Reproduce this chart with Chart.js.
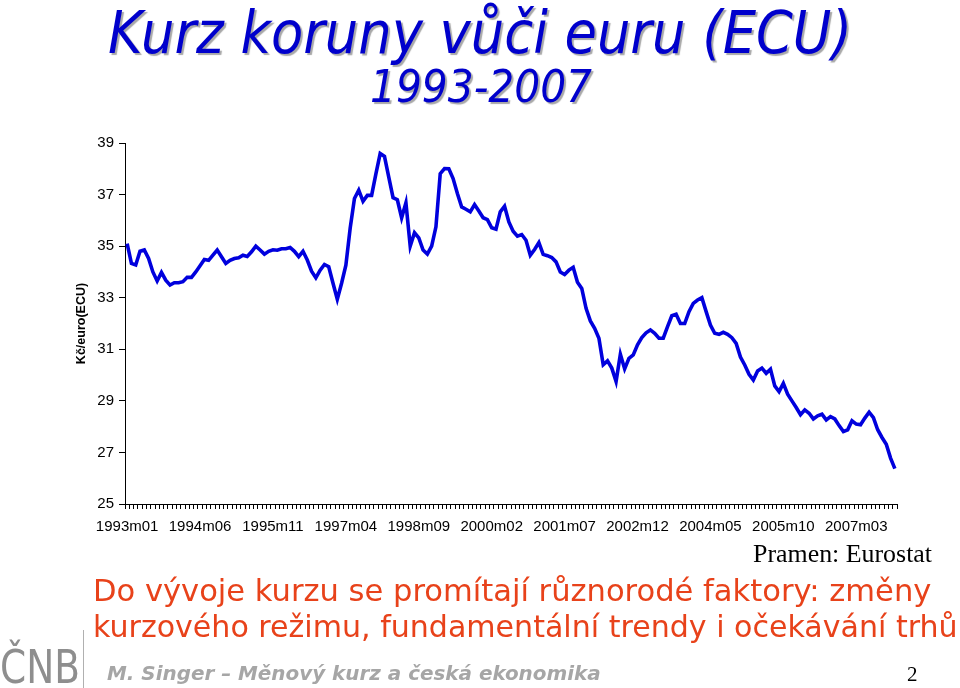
<!DOCTYPE html>
<html>
<head>
<meta charset="utf-8">
<script src="https://cdn.jsdelivr.net/npm/chart.js@4.4.1/dist/chart.umd.min.js"></script>
<style>
  html, body { margin:0; padding:0; background:#fff; }
  body { width:960px; height:688px; position:relative; overflow:hidden; }
  #c { position:absolute; left:0; top:0; }
  .txt { position:absolute; white-space:nowrap; line-height:1; left:0; top:0; }
  .bl { display:inline-block; width:0; height:0; vertical-align:baseline; }
  #title { font-family:"DejaVu Sans Condensed","DejaVu Sans",sans-serif; font-stretch:condensed; font-style:italic; color:#0000cc; text-shadow:2px 2px 1px #a8a8a8; }
  #sub { font-family:"DejaVu Sans Condensed","DejaVu Sans",sans-serif; font-stretch:condensed; font-style:italic; color:#0000cc; text-shadow:2px 2px 1px #a8a8a8; }
  #src { font-family:"Liberation Serif","Times New Roman",serif; color:#000; }
  .red { font-family:"DejaVu Sans",sans-serif; color:#e8421a; }
  #author { font-family:"DejaVu Sans",sans-serif; font-weight:bold; font-style:italic; color:#a6a6a6; }
  #page { font-family:"Liberation Serif",serif; color:#000; }
  #cnb { font-family:"DejaVu Sans Condensed","DejaVu Sans",sans-serif; font-stretch:condensed; color:#8e8e8e; transform-origin:0 100%; transform:scaleY(1.12); }
  #vline { position:absolute; left:83px; top:630px; width:1px; height:58px; background:#b0b0b0; }
</style>
</head>
<body>
<canvas id="c" width="960" height="688"></canvas>
<div id="title" class="txt">Kurz koruny vůči euru (ECU)<span class="bl"></span></div>
<div id="sub" class="txt">1993-2007<span class="bl"></span></div>
<div id="src" class="txt">Pramen: Eurostat<span class="bl"></span></div>
<div id="red1" class="txt red">Do vývoje kurzu se promítají různorodé faktory: změny<span class="bl"></span></div>
<div id="red2" class="txt red">kurzového režimu, fundamentální trendy i očekávání trhů<span class="bl"></span></div>
<div id="cnb" class="txt">ČNB<span class="bl"></span></div>
<div id="vline"></div>
<div id="author" class="txt">M. Singer – Měnový kurz a česká ekonomika<span class="bl"></span></div>
<div id="page" class="txt">2<span class="bl"></span></div>
<script>
// ---- Data ----
const startYear = 1993;
const endYear = 2007;
const months = [];
for (let y = startYear; y <= endYear; y++) {
  for (let m = 1; m <= 12; m++) months.push(y + 'm' + (m < 10 ? '0' + m : m));
}
const tickLabels = ['1993m01','1994m06','1995m11','1997m04','1998m09','2000m02','2001m07','2002m12','2004m05','2005m10','2007m03'];
const yTicks = [25, 27, 29, 31, 33, 35, 37, 39];
const yTitle = 'Kč/euro(ECU)';
// CZK per EUR (ECU), monthly 1993m01 - 2007m12
const kurz = [
  35.10, 34.33, 34.27, 34.80, 34.85, 34.52, 34.00, 33.65, 33.98, 33.68, 33.49, 33.58,
  33.58, 33.62, 33.79, 33.79, 34.00, 34.24, 34.48, 34.45, 34.65, 34.85, 34.59, 34.33,
  34.45, 34.52, 34.55, 34.65, 34.60, 34.78, 35.00, 34.85, 34.69, 34.80, 34.86, 34.84,
  34.90, 34.90, 34.95, 34.80, 34.59, 34.80, 34.46, 34.03, 33.77, 34.07, 34.29, 34.20,
  33.56, 32.94, 33.56, 34.26, 35.69, 36.85, 37.17, 36.74, 36.97, 36.97, 37.80, 38.59,
  38.48, 37.68, 36.88, 36.80, 36.10, 36.68, 35.00, 35.52, 35.32, 34.85, 34.69, 35.00,
  35.75, 37.81, 38.01, 38.00, 37.62, 37.04, 36.52, 36.43, 36.33, 36.61, 36.36, 36.10,
  36.03, 35.71, 35.66, 36.33, 36.55, 35.94, 35.58, 35.39, 35.45, 35.23, 34.65, 34.87,
  35.14, 34.68, 34.63, 34.56, 34.39, 34.00, 33.90, 34.07, 34.18, 33.60, 33.36, 32.59,
  32.10, 31.81, 31.43, 30.40, 30.55, 30.27, 29.75, 30.81, 30.24, 30.65, 30.78, 31.17,
  31.45, 31.64, 31.75, 31.62, 31.43, 31.43, 31.88, 32.30, 32.36, 32.00, 32.00, 32.46,
  32.78, 32.91, 33.00, 32.46, 31.94, 31.62, 31.58, 31.66, 31.58, 31.45, 31.23, 30.70,
  30.39, 30.03, 29.81, 30.16, 30.27, 30.07, 30.23, 29.58, 29.36, 29.68, 29.26, 29.00,
  28.74, 28.46, 28.65, 28.52, 28.30, 28.42, 28.48, 28.26, 28.39, 28.30, 28.04, 27.81,
  27.88, 28.23, 28.10, 28.07, 28.33, 28.56, 28.35, 27.88, 27.58, 27.32, 26.78, 26.37
];

// ---- Chart ----
new Chart(document.getElementById('c'), {
  type: 'line',
  data: {
    labels: months,
    datasets: [{
      data: kurz,
      borderColor: '#0000dd',
      borderWidth: 3.6,
      pointRadius: 0,
      tension: 0,
      fill: false
    }]
  },
  options: {
    responsive: false,
    animation: false,
    events: [],
    layout: { padding: { top: 143, left: 0, right: 63, bottom: 144 } },
    plugins: { legend: { display: false }, tooltip: { enabled: false } },
    scales: {
      x: {
        type: 'category',
        offset: true,
        afterFit: s => { s.height = 40; },
        border: { display: true, color: '#000', width: 1 },
        grid: { display: true, offset: true, drawOnChartArea: false, drawTicks: true, tickLength: 5, color: '#000', lineWidth: 1 },
        ticks: {
          autoSkip: false, maxRotation: 0, minRotation: 0, padding: 9,
          color: '#000',
          font: { family: '"Liberation Sans", Arial, sans-serif', size: 15 },
          callback: function(v, i) { const l = months[i]; return tickLabels.includes(l) ? l : ''; }
        }
      },
      y: {
        min: 25, max: 39,
        afterFit: s => { s.width = 125; },
        afterBuildTicks: s => { s.ticks = yTicks.map(v => ({ value: v })); },
        border: { display: true, color: '#000', width: 1 },
        grid: { display: true, drawOnChartArea: false, drawTicks: true, tickLength: 6, color: '#000', lineWidth: 1 },
        ticks: {
          padding: 5, color: '#000',
          font: { family: '"Liberation Sans", Arial, sans-serif', size: 15 }
        },
        title: {
          display: true, text: yTitle, color: '#000',
          font: { family: '"Liberation Sans", Arial, sans-serif', size: 12.5, weight: 'bold' },
          padding: { top: 74.5, bottom: 0 }
        }
      }
    }
  }
});

// ---- Text placement ----
function place(id, o) {
  const el = document.getElementById(id);
  el.style.fontSize = o.size + 'px';
  if (o.width) {
    const w = el.getBoundingClientRect().width;
    el.style.fontSize = (o.size * o.width / w) + 'px';
  }
  const r = el.getBoundingClientRect();
  let left;
  if (o.left !== undefined) left = o.left;
  else if (o.right !== undefined) left = o.right - r.width;
  else left = o.cx - r.width / 2;
  el.style.left = left + 'px';
  el.style.top = '0px';
  const b = el.querySelector('.bl').getBoundingClientRect().top;
  el.style.top = (o.baseline - b) + 'px';
}
place('title', { size: 54, width: 744, cx: 480, baseline: 53 });
place('sub', { size: 40, width: 222, cx: 481, baseline: 102 });
place('src', { size: 21, width: 179, right: 932, baseline: 562 });
place('red1', { size: 28, width: 839, left: 93, baseline: 601 });
place('red2', { size: 28, width: 865, left: 93, baseline: 637 });
place('cnb', { size: 50, width: 80, left: 0, baseline: 683 });
place('author', { size: 22, width: 494, left: 107, baseline: 680 });
place('page', { size: 21, left: 907, baseline: 681 });
</script>
</body>
</html>
